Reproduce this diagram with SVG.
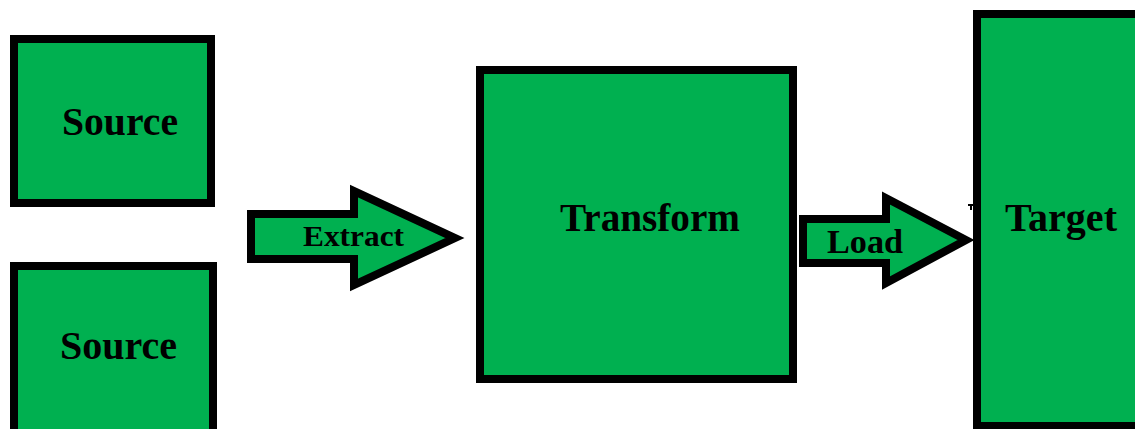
<svg xmlns="http://www.w3.org/2000/svg" width="1135" height="429" viewBox="0 0 1135 429">
<style>
.box{fill:#00B050;stroke:#000;stroke-width:8}
.arr{fill:#00B050;stroke:#000;stroke-width:8;stroke-linejoin:miter;stroke-miterlimit:10}
.lbl{font-family:"Liberation Serif","Times New Roman",serif;font-weight:bold;fill:#000}
</style>
<rect width="1135" height="429" fill="#fff"/>
<g id="source1"><rect class="box" x="14" y="39" width="197" height="164"/><text class="lbl" x="62" y="135" font-size="41" textLength="116" lengthAdjust="spacingAndGlyphs">Source</text></g>
<g id="source2"><rect class="box" x="14" y="266" width="199" height="175"/><text class="lbl" x="60" y="359" font-size="41" textLength="117" lengthAdjust="spacingAndGlyphs">Source</text></g>
<g id="transform"><rect class="box" x="480" y="70" width="313" height="309"/><text class="lbl" x="560" y="231" font-size="41" textLength="180" lengthAdjust="spacingAndGlyphs">Transform</text></g>
<g id="target"><rect class="box" x="977" y="14" width="170" height="412"/><text class="lbl" x="1005" y="231" font-size="41" textLength="112" lengthAdjust="spacingAndGlyphs">Target</text></g>
<g id="connectors">
<g id="extract"><polygon class="arr" points="251,214 354,214 354,191 455,238 354,285 354,259 251,259"/><text class="lbl" x="303" y="246" font-size="29" textLength="101" lengthAdjust="spacingAndGlyphs">Extract</text></g>
<g id="load"><polygon class="arr" points="803,219 886,219 886,198 966,240 886,283 886,263 803,263"/><text class="lbl" x="827" y="253" font-size="34" textLength="76" lengthAdjust="spacingAndGlyphs">Load</text></g>
<path d="M968,205 L974,205 M971,205 L971,210" stroke="#000" stroke-width="2"/>
</g>
</svg>
